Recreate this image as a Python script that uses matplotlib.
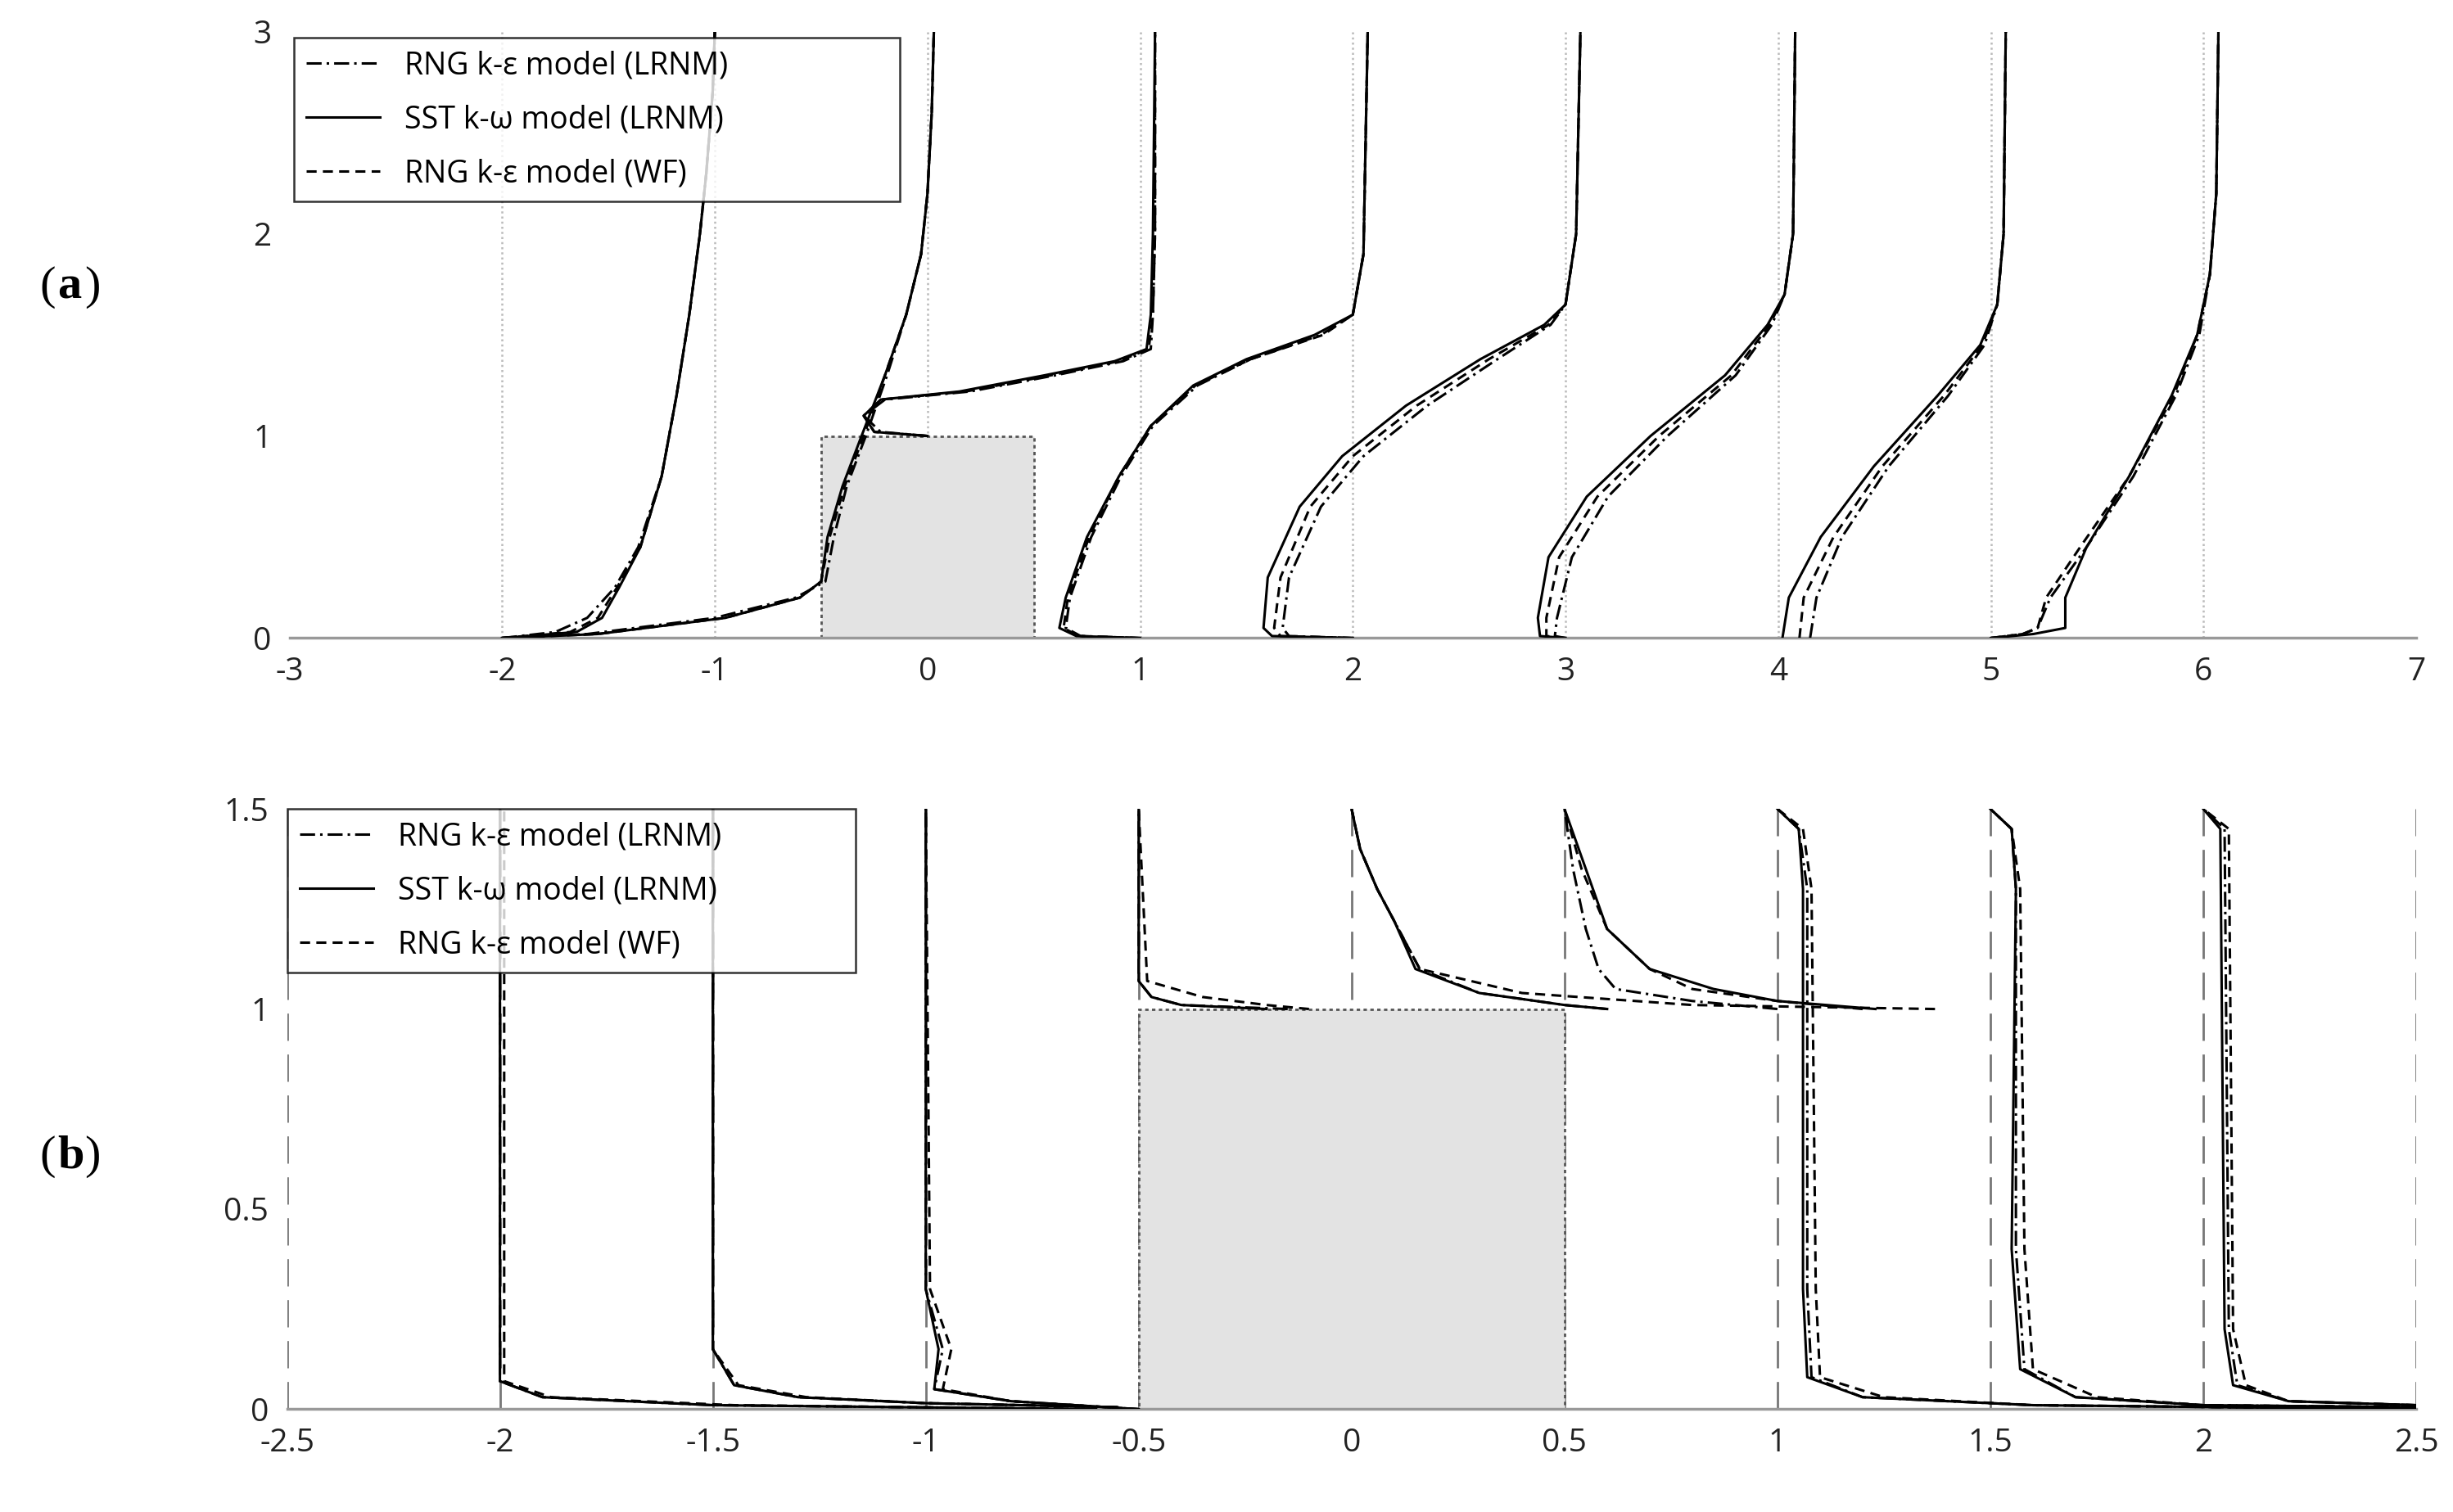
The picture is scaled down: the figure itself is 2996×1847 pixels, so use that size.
import matplotlib.pyplot as plt
from matplotlib.patches import Rectangle

plt.rcParams['font.family'] = ['Open Sans', 'DejaVu Sans']

labels = ["RNG k-ε model (LRNM)", "SST k-ω model (LRNM)", "RNG k-ε model (WF)"]
styles = [(0, (6, 2, 1, 2)), "-", (0, (4, 2.5))]

# ---- panel (a): profiles, each as y list + x lists (RNG LRNM, SST LRNM, RNG WF)
a_profiles = [
    ([0, 0.03, 0.1, 0.25, 0.45, 0.8, 1.2, 1.6, 2.0, 2.3, 2.7, 3.0],
     [-2.0, -1.75, -1.6, -1.47, -1.36, -1.25, -1.18, -1.12, -1.07, -1.04, -1.01, -1.0],
     [-2.0, -1.65, -1.53, -1.45, -1.35, -1.25, -1.18, -1.12, -1.07, -1.04, -1.01, -1.0],
     [-2.0, -1.68, -1.55, -1.46, -1.35, -1.25, -1.18, -1.12, -1.07, -1.04, -1.01, -1.0]),
    ([0, 0.02, 0.1, 0.2, 0.28, 0.5, 0.75, 1.0, 1.3, 1.6, 1.9, 2.2, 2.6, 3.0],
     [-2.0, -1.6, -1.0, -0.62, -0.48, -0.44, -0.38, -0.29, -0.19, -0.1, -0.03, 0.0, 0.02, 0.03],
     [-2.0, -1.55, -0.95, -0.6, -0.5, -0.47, -0.4, -0.31, -0.2, -0.1, -0.03, 0.0, 0.02, 0.03],
     [-2.0, -1.55, -0.95, -0.6, -0.5, -0.46, -0.39, -0.3, -0.2, -0.1, -0.03, 0.0, 0.02, 0.03]),
    ([1.0, 1.02, 1.1, 1.18, 1.22, 1.3, 1.37, 1.43, 1.6, 2.0, 3.0],
     [0.0, -0.22, -0.3, -0.2, 0.2, 0.6, 0.92, 1.05, 1.06, 1.07, 1.07],
     [0.0, -0.25, -0.3, -0.22, 0.15, 0.55, 0.88, 1.03, 1.05, 1.06, 1.07],
     [0.0, -0.25, -0.3, -0.22, 0.18, 0.58, 0.9, 1.04, 1.06, 1.07, 1.07]),
    ([0, 0.01, 0.05, 0.2, 0.5, 0.8, 1.05, 1.25, 1.38, 1.5, 1.6, 1.9, 3.0],
     [1.0, 0.72, 0.65, 0.67, 0.77, 0.91, 1.06, 1.27, 1.52, 1.85, 2.0, 2.05, 2.07],
     [1.0, 0.7, 0.62, 0.65, 0.75, 0.9, 1.05, 1.25, 1.5, 1.82, 2.0, 2.05, 2.07],
     [1.0, 0.71, 0.64, 0.66, 0.76, 0.9, 1.05, 1.26, 1.52, 1.86, 2.0, 2.05, 2.07]),
    ([0, 0.01, 0.05, 0.3, 0.65, 0.9, 1.15, 1.38, 1.55, 1.65, 2.0, 3.0],
     [2.0, 1.7, 1.67, 1.7, 1.85, 2.05, 2.35, 2.68, 2.93, 3.0, 3.05, 3.07],
     [2.0, 1.62, 1.58, 1.6, 1.75, 1.95, 2.25, 2.6, 2.9, 3.0, 3.05, 3.07],
     [2.0, 1.66, 1.63, 1.66, 1.8, 2.0, 2.3, 2.64, 2.92, 3.0, 3.05, 3.07]),
    ([0, 0.01, 0.1, 0.4, 0.7, 1.0, 1.3, 1.55, 1.7, 2.0, 3.0],
     [3.0, 2.95, 2.96, 3.03, 3.2, 3.48, 3.8, 3.97, 4.03, 4.07, 4.08],
     [3.0, 2.88, 2.87, 2.92, 3.1, 3.4, 3.75, 3.95, 4.03, 4.07, 4.08],
     [3.0, 2.91, 2.91, 2.97, 3.15, 3.44, 3.78, 3.96, 4.03, 4.07, 4.08]),
    ([0, 0.2, 0.5, 0.85, 1.2, 1.45, 1.65, 2.0, 3.0],
     [4.15, 4.18, 4.3, 4.52, 4.8, 4.97, 5.03, 5.06, 5.07],
     [4.02, 4.05, 4.2, 4.45, 4.75, 4.95, 5.03, 5.06, 5.07],
     [4.1, 4.12, 4.26, 4.49, 4.78, 4.96, 5.03, 5.06, 5.07]),
    ([0, 0.02, 0.05, 0.2, 0.45, 0.8, 1.2, 1.5, 1.8, 2.2, 3.0],
     [5.0, 5.15, 5.22, 5.28, 5.45, 5.67, 5.87, 5.98, 6.03, 6.06, 6.07],
     [5.0, 5.2, 5.35, 5.35, 5.45, 5.65, 5.85, 5.97, 6.03, 6.06, 6.07],
     [5.0, 5.15, 5.22, 5.26, 5.42, 5.65, 5.86, 5.97, 6.03, 6.06, 6.07]),
]

# ---- panel (b)
b_profiles = [
    ([0.0, 0.01, 0.03, 0.07, 1.5],
     [-0.6, -1.5, -1.9, -2.0, -2.0],
     [-0.6, -1.5, -1.9, -2.0, -2.0],
     [-0.6, -1.45, -1.88, -1.99, -1.99]),
    ([0.005, 0.015, 0.03, 0.06, 0.15, 1.5],
     [-0.55, -1.0, -1.3, -1.45, -1.5, -1.5],
     [-0.55, -1.0, -1.3, -1.45, -1.5, -1.5],
     [-0.55, -1.0, -1.28, -1.44, -1.5, -1.5]),
    ([0.0, 0.02, 0.05, 0.15, 0.3, 1.5],
     [-0.5, -0.8, -0.98, -0.96, -1.0, -1.0],
     [-0.5, -0.8, -0.98, -0.97, -1.0, -1.0],
     [-0.5, -0.8, -0.96, -0.94, -0.99, -1.0]),
    ([1.0, 1.01, 1.03, 1.07, 1.5],
     [-0.15, -0.4, -0.47, -0.5, -0.5],
     [-0.2, -0.4, -0.47, -0.5, -0.5],
     [-0.1, -0.2, -0.35, -0.48, -0.5]),
    ([1.0, 1.01, 1.04, 1.1, 1.22, 1.3, 1.4, 1.5],
     [0.6, 0.5, 0.3, 0.16, 0.1, 0.06, 0.02, 0.0],
     [0.6, 0.5, 0.3, 0.15, 0.1, 0.06, 0.02, 0.0],
     [1.37, 0.8, 0.4, 0.16, 0.1, 0.06, 0.02, 0.0]),
    ([1.0, 1.02, 1.05, 1.1, 1.2, 1.35, 1.5],
     [1.0, 0.8, 0.62, 0.58, 0.55, 0.52, 0.5],
     [1.23, 1.0, 0.85, 0.7, 0.6, 0.55, 0.5],
     [1.2, 1.0, 0.8, 0.7, 0.6, 0.54, 0.5]),
    ([0.0, 0.01, 0.03, 0.08, 0.3, 1.3, 1.45, 1.5],
     [2.5, 1.6, 1.2, 1.08, 1.07, 1.07, 1.05, 1.0],
     [2.5, 1.6, 1.2, 1.07, 1.06, 1.06, 1.05, 1.0],
     [2.5, 1.6, 1.25, 1.1, 1.09, 1.08, 1.06, 1.0]),
    ([0.005, 0.01, 0.03, 0.1, 0.4, 1.3, 1.45, 1.5],
     [2.5, 2.0, 1.7, 1.58, 1.56, 1.56, 1.55, 1.5],
     [2.5, 2.0, 1.7, 1.57, 1.55, 1.56, 1.55, 1.5],
     [2.5, 2.0, 1.75, 1.6, 1.58, 1.57, 1.55, 1.5]),
    ([0.01, 0.02, 0.06, 0.2, 1.45, 1.5],
     [2.5, 2.2, 2.08, 2.06, 2.05, 2.0],
     [2.5, 2.2, 2.07, 2.05, 2.04, 2.0],
     [2.5, 2.2, 2.1, 2.07, 2.06, 2.0]),
]

a_grid = [-2, -1, 0, 1, 2, 3, 4, 5, 6]
b_grid = [-2.5, -2, -1.5, -1, -0.5, 0, 0.5, 1, 1.5, 2, 2.5]

fig = plt.figure(figsize=(29.96, 18.47), dpi=100)
ax_a = fig.add_axes([0.118, 0.578, 0.867, 0.401])
ax_b = fig.add_axes([0.117, 0.068, 0.868, 0.397])


def setup(ax, xlim, ylim, xticks, yticks, fmt):
    ax.set_xlim(*xlim)
    ax.set_ylim(*ylim)
    ax.set_xticks(xticks)
    ax.set_xticklabels([fmt(t) for t in xticks])
    ax.set_yticks(yticks)
    ax.set_yticklabels([fmt(t) for t in yticks])
    for s in ("top", "right", "left"):
        ax.spines[s].set_visible(False)
    ax.spines["bottom"].set_color("#999999")
    ax.spines["bottom"].set_linewidth(2.5)
    ax.tick_params(length=0, labelsize=28, pad=16, colors="#222222")


def fmt(v):
    return f"{v:g}"


setup(ax_a, (-3, 7), (0, 3), list(range(-3, 8)), [0, 1, 2, 3], fmt)
setup(ax_b, (-2.5, 2.5), (0, 1.5), b_grid, [0, 0.5, 1, 1.5], fmt)

for g in a_grid:
    ax_a.axvline(g, color="#bbbbbb", lw=1.8, ls=(0, (1, 1.5)), zorder=0)
for g in b_grid:
    ax_b.axvline(g, color="#777777", lw=2.0, ls=(0, (12, 6)), zorder=0)

for ax in (ax_a, ax_b):
    ax.add_patch(Rectangle((-0.5, 0), 1, 1, facecolor="#e3e3e3", edgecolor="#555555",
                           lw=2.0, ls=(0, (1.5, 1.5)), zorder=1))

for ax, profiles in ((ax_a, a_profiles), (ax_b, b_profiles)):
    for y, x_rng, x_sst, x_wf in profiles:
        for i, xs in enumerate((x_rng, x_sst, x_wf)):
            ax.plot(xs, y, color="black", lw=2.2, ls=styles[i], zorder=3, label=labels[i])

for ax, box in ((ax_a, (0.002, 0.72, 0.285, 0.27)), (ax_b, (0.0, 0.645, 0.267, 0.355))):
    lines = ax.get_lines()
    lines = [l for l in lines if l.get_label() in labels][:3]
    leg = ax.legend(lines, labels, loc="upper left", bbox_to_anchor=box, mode="expand",
                    fontsize=27, frameon=True, fancybox=False, borderaxespad=0,
                    handlelength=2.4, labelspacing=0.75)
    leg.get_frame().set_edgecolor("black")
    leg.get_frame().set_linewidth(1.8)
    leg.set_zorder(5)

for ypos, lab in ((0.81, "a"), (0.235, "b")):
    fig.text(0.016, ypos, "(", fontsize=42, family="Liberation Serif", va="center")
    fig.text(0.0235, ypos, lab, fontsize=42, family="Liberation Serif", weight="bold", va="center")
    fig.text(0.0345, ypos, ")", fontsize=42, family="Liberation Serif", va="center")

fig.savefig("out.png", dpi=100)
